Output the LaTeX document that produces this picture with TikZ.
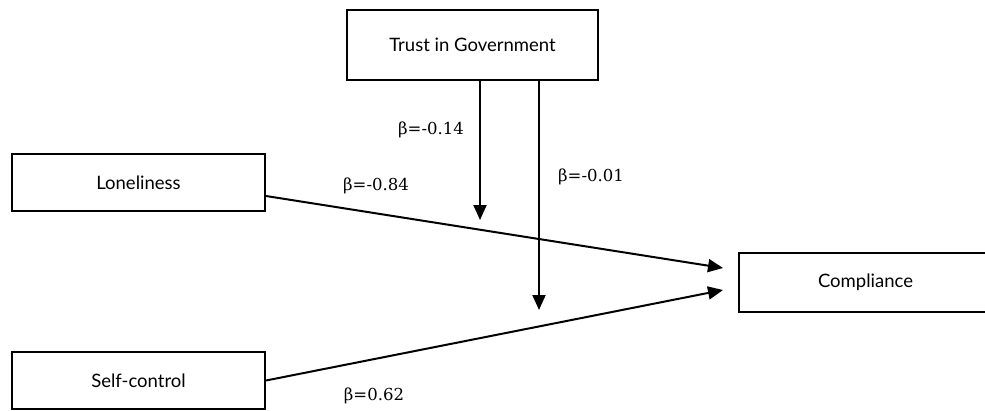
\documentclass[tikz,border=0pt]{standalone}
\usepackage{fontspec}
\setmainfont{Lato}
\newfontfamily\labfont{DejaVu Serif}
\usetikzlibrary{arrows.meta}
\begin{document}
\begin{tikzpicture}[x=1pt,y=-1pt,
  box/.style={draw=black,line width=2pt,fill=white,inner sep=0pt,font=\fontsize{18.5}{22}\selectfont},
  conn/.style={line width=2pt,-{Triangle[length=15pt,width=13pt]}},
  lab/.style={font=\labfont\fontsize{16.5}{19}\selectfont,inner sep=0pt}]
\useasboundingbox (0,0) rectangle (985,410);
\node[box,minimum width=251pt,minimum height=70pt] (trust) at (472.5,45) {Trust in Government};
\node[box,minimum width=253pt,minimum height=57pt] (lonely) at (138.5,182.5) {Loneliness};
\node[box,minimum width=253pt,minimum height=57pt] (self) at (138.5,380.5) {Self-control};
\node[box,minimum width=252pt,minimum height=59pt,text width=246pt,align=left] (comp) at (865,282.5) {\hspace{76pt}Compliance};
\coordinate (t1) at (480,220);
\coordinate (t2) at (539,310);
\coordinate (c1) at (723,268);
\coordinate (c2) at (723,290);
\draw[conn] ([xshift=7.5pt]trust.south) -- (t1);
\draw[conn] ([xshift=66.5pt]trust.south) -- (t2);
\draw[conn] ([yshift=-13.5pt]lonely.east) -- (c1);
\draw[conn] (self.east) -- (c2);
\node[lab] (l1) at (431,130) {β=-0.14};
\node[lab] (l2) at (376,186) {β=-0.84};
\node[lab] (l3) at (591,177) {β=-0.01};
\node[lab] (l4) at (374,396) {β=0.62};
\end{tikzpicture}
\end{document}
